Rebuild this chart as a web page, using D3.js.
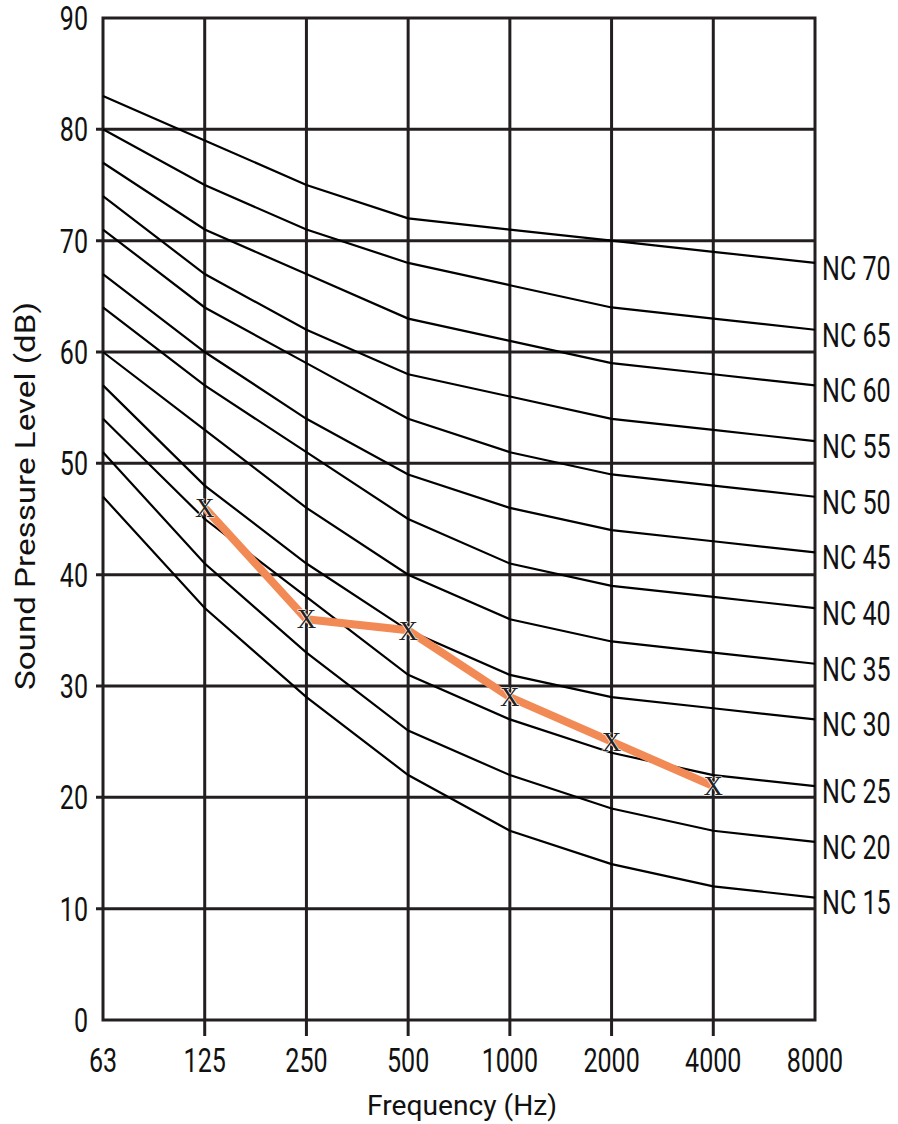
<!DOCTYPE html>
<html>
<head>
<meta charset="utf-8">
<script src="https://cdn.jsdelivr.net/npm/d3@7"></script>
<style>
    body { margin: 0; background: #fff; }
    .tick-label { font-family: "Roboto", sans-serif; font-size: 33px; fill: #111; }
    .axis-title { font-family: "Roboto", "Liberation Sans", sans-serif; font-size: 28px; fill: #111; }
</style>
</head>
<body>
<svg id="chart" width="898" height="1124"></svg>
<script>
// frequency bands (Hz)
const frequencies = ["63", "125", "250", "500", "1000", "2000", "4000", "8000"];
const yTicks = [0, 10, 20, 30, 40, 50, 60, 70, 80, 90];

// NC curves, sound pressure level (dB) per band
const ncNames = ["NC 15", "NC 20", "NC 25", "NC 30", "NC 35", "NC 40", "NC 45", "NC 50", "NC 55", "NC 60", "NC 65", "NC 70"];
const nc15 = [47, 37, 29, 22, 17, 14, 12, 11];
const nc20 = [51, 41, 33, 26, 22, 19, 17, 16];
const nc25 = [54, 45, 38, 31, 27, 24, 22, 21];
const nc30 = [57, 48, 41, 35, 31, 29, 28, 27];
const nc35 = [60, 53, 46, 40, 36, 34, 33, 32];
const nc40 = [64, 57, 51, 45, 41, 39, 38, 37];
const nc45 = [67, 60, 54, 49, 46, 44, 43, 42];
const nc50 = [71, 64, 59, 54, 51, 49, 48, 47];
const nc55 = [74, 67, 62, 58, 56, 54, 53, 52];
const nc60 = [77, 71, 67, 63, 61, 59, 58, 57];
const nc65 = [80, 75, 71, 68, 66, 64, 63, 62];
const nc70 = [83, 79, 75, 72, 71, 70, 69, 68];
const ncCurves = [nc15, nc20, nc25, nc30, nc35, nc40, nc45, nc50, nc55, nc60, nc65, nc70];

// measured spectrum
const measuredFreqs = ["125", "250", "500", "1000", "2000", "4000"];
const measuredLevels = [46, 36, 35, 29, 25, 21];

const svg = d3.select("#chart");
const ink = "#231f20";
const narrow = 0.76; // fake a condensed face

const x = d3.scalePoint().domain(frequencies).range([103, 815]);
const y = d3.scaleLinear().domain([0, 90]).range([1020, 18]);

// horizontal grid lines (with short tick stubs to the left)
svg.append("g").selectAll("line").data(yTicks.filter(d => d > 0 && d < 90)).join("line")
    .attr("x1", 96).attr("x2", 815)
    .attr("y1", d => y(d)).attr("y2", d => y(d))
    .attr("stroke", ink).attr("stroke-width", 3);

// vertical grid lines, stubs below axis
svg.append("g").selectAll("line").data(frequencies.slice(1, -1)).join("line")
    .attr("x1", d => x(d)).attr("x2", d => x(d))
    .attr("y1", y(90)).attr("y2", 1036)
    .attr("stroke", ink).attr("stroke-width", 3);

// frame
svg.append("rect")
    .attr("x", x("63")).attr("y", y(90))
    .attr("width", x("8000") - x("63")).attr("height", y(0) - y(90))
    .attr("fill", "none").attr("stroke", ink).attr("stroke-width", 3);

// y tick labels
svg.append("g").selectAll("text").data(yTicks).join("text")
    .attr("class", "tick-label")
    .attr("transform", d => `translate(88,${y(d)}) scale(${narrow},1)`)
    .attr("dy", "0.36em")
    .attr("text-anchor", "end")
    .text(d => d);

// x tick labels
svg.append("g").selectAll("text").data(frequencies).join("text")
    .attr("class", "tick-label")
    .attr("transform", d => `translate(${x(d)},1072) scale(${narrow},1)`)
    .attr("text-anchor", "middle")
    .text(d => d);

// NC curves
const line = d3.line()
    .x((d, i) => x(frequencies[i]))
    .y(d => y(d));

svg.append("g").selectAll("path").data(ncCurves).join("path")
    .attr("d", line)
    .attr("fill", "none").attr("stroke", "#000").attr("stroke-width", 2.2);

svg.append("g").selectAll("text").data(ncCurves).join("text")
    .attr("class", "tick-label")
    .attr("transform", d => `translate(822,${y(d[d.length - 1]) + 5}) scale(${narrow},1)`)
    .attr("dy", "0.36em")
    .text((d, i) => ncNames[i]);

// measured line
const measured = measuredFreqs.map((f, i) => ({f: f, v: measuredLevels[i]}));
svg.append("path")
    .datum(measured)
    .attr("d", d3.line().x(d => x(d.f)).y(d => y(d.v)))
    .attr("fill", "none").attr("stroke", "#f28a55").attr("stroke-width", 8)
    .attr("stroke-linejoin", "round");

svg.append("g").selectAll("text").data(measured).join("text")
    .attr("x", d => x(d.f)).attr("y", d => y(d.v)).attr("dy", "0.34em")
    .attr("text-anchor", "middle")
    .attr("font-family", "'Liberation Serif', 'DejaVu Serif', serif")
    .attr("font-size", 27)
    .attr("fill", "#222")
    .attr("stroke", "#fff").attr("stroke-width", 1.2).attr("paint-order", "stroke")
    .text("X");

// axis titles
svg.append("text")
    .attr("class", "axis-title")
    .attr("transform", "translate(35,496) rotate(-90)")
    .attr("text-anchor", "middle")
    .attr("textLength", 388).attr("lengthAdjust", "spacingAndGlyphs")
    .text("Sound Pressure Level (dB)");

svg.append("text")
    .attr("class", "axis-title")
    .attr("x", 462).attr("y", 1115)
    .attr("text-anchor", "middle")
    .attr("textLength", 190).attr("lengthAdjust", "spacingAndGlyphs")
    .text("Frequency (Hz)");
</script>
</body>
</html>
